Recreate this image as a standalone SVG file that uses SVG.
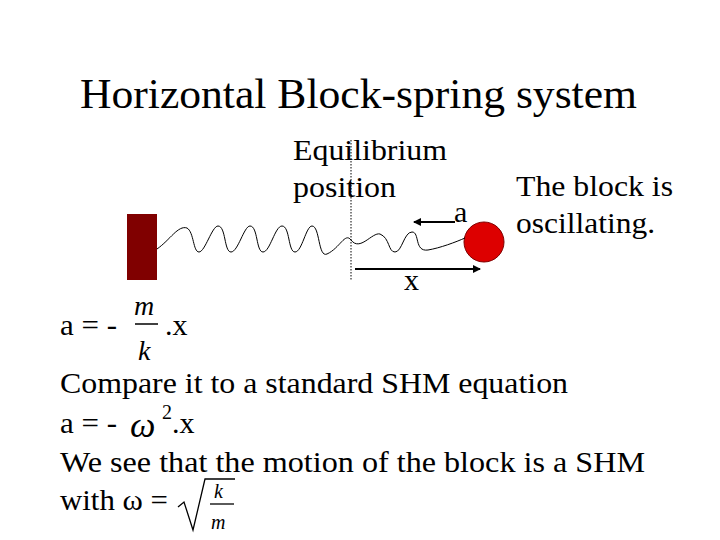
<svg xmlns="http://www.w3.org/2000/svg" width="720" height="540" viewBox="0 0 720 540">
<style>
text{font-family:"Liberation Serif","Times New Roman",serif;fill:#000}
.t{font-size:30px}
.i{font-style:italic}
</style>
<defs><marker id="ah" markerWidth="8" markerHeight="8" refX="7" refY="4" orient="auto" markerUnits="userSpaceOnUse"><path d="M0,0 L8,4 L0,8 z" fill="#000"/></marker></defs>
<rect width="720" height="540" fill="#fff"/>
<text x="80" y="108" font-size="42" textLength="557" lengthAdjust="spacingAndGlyphs">Horizontal Block-spring system</text>
<g id="labels">
<text class="t" x="293" y="160" textLength="154" lengthAdjust="spacingAndGlyphs">Equilibrium</text>
<text class="t" x="293" y="197" textLength="103" lengthAdjust="spacingAndGlyphs">position</text>
<text class="t" x="454" y="222">a</text>
<text class="t" x="516" y="196" textLength="157" lengthAdjust="spacingAndGlyphs">The block is</text>
<text class="t" x="516" y="233" textLength="139" lengthAdjust="spacingAndGlyphs">oscillating.</text>
<text class="t" x="404" y="290">x</text>
</g>
<g id="block"><rect x="127" y="214" width="30" height="66" fill="#800000"/></g>
<g id="ball"><circle cx="484" cy="242" r="20" fill="#dd0000" stroke="#800000" stroke-width="1"/></g>
<g id="equilibrium"><line x1="351" y1="140" x2="351" y2="280" stroke="#000" stroke-dasharray="1.5,1.5"/></g>
<g id="connectors" fill="none" stroke="#000">
<path d="M157,249 C170,240 178,225 187,228 C194,232 193,252 199,252 C205,252 212,226 218,226 C226,226 224,252 231,252 C238,252 244,226 250,226 C258,226 256,252 263,252 C270,252 275,226 282,226 C290,226 288,252 295,252 C302,252 306,226 312,226 C320,226 318,258 327,254 C340,248 345,232 351,240 C360,252 372,232 380,234 C390,238 388,252 395,252 C402,252 404,232 412,232 C420,232 414,252 428,250 C440,248 456,242 465,238"/>
<line x1="455" y1="222" x2="414" y2="222" stroke-width="2" marker-end="url(#ah)"/>
<line x1="355" y1="269" x2="480" y2="269" stroke-width="2" marker-end="url(#ah)"/>
</g>
<g id="equations">
<text class="t" x="60" y="335" textLength="57" lengthAdjust="spacingAndGlyphs">a = -</text>
<text class="i" x="134" y="315" font-size="28">m</text>
<line x1="135" y1="324" x2="158" y2="324" stroke="#000" stroke-width="1.5"/>
<text class="i" x="138" y="360" font-size="28">k</text>
<text class="t" x="165" y="335">.x</text>
<text class="t" x="60" y="393" textLength="508" lengthAdjust="spacingAndGlyphs">Compare it to a standard SHM equation</text>
<text class="t" x="60" y="433" textLength="57" lengthAdjust="spacingAndGlyphs">a = -</text>
<text class="i" x="130" y="437" font-size="36">ω</text>
<text x="162" y="419" font-size="20">2</text>
<text class="t" x="172" y="433">.x</text>
<text class="t" x="60" y="472" textLength="585" lengthAdjust="spacingAndGlyphs">We see that the motion of the block is a SHM</text>
<text class="t" x="60" y="510" textLength="108" lengthAdjust="spacingAndGlyphs">with ω =</text>
<path d="M178,507 L184,502 L193,530 L205,479 L235,479" fill="none" stroke="#000" stroke-width="1.3"/>
<text class="i" x="214" y="498" font-size="20">k</text>
<line x1="210" y1="504" x2="234" y2="504" stroke="#000" stroke-width="1.3"/>
<text class="i" x="211" y="529" font-size="20">m</text>
</g>
</svg>
